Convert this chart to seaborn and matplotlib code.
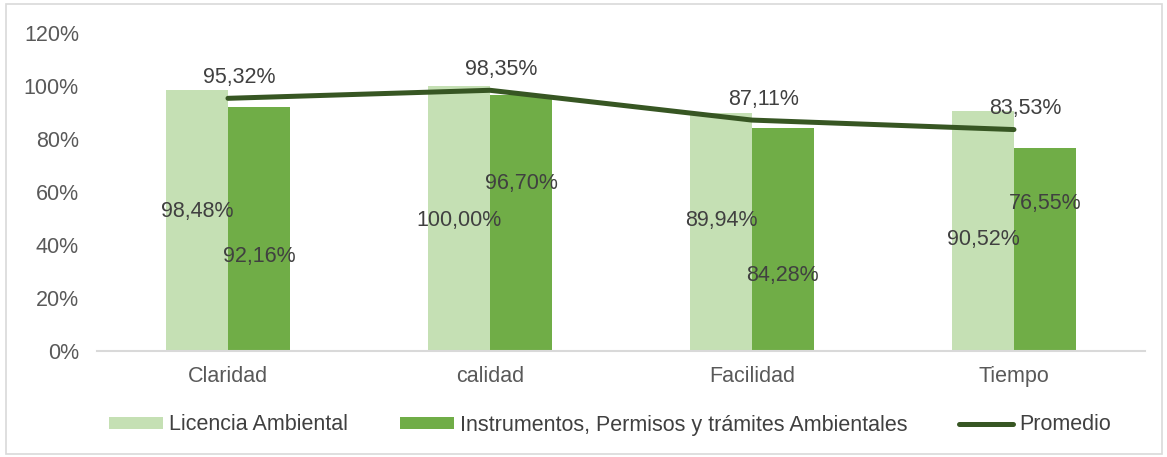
"""Evaluación de trámites ambientales: barras agrupadas con línea de promedio."""
import matplotlib.pyplot as plt
import pandas as pd
import seaborn as sns
from matplotlib.lines import Line2D
from matplotlib.patches import Patch, Rectangle
from matplotlib.ticker import FuncFormatter

categories = ["Claridad", "calidad", "Facilidad", "Tiempo"]
licencia = [98.48, 100.00, 89.94, 90.52]
instrumentos = [92.16, 96.70, 84.28, 76.55]
promedio = [95.32, 98.35, 87.11, 83.53]
series_names = ["Licencia Ambiental", "Instrumentos, Permisos y trámites Ambientales"]

# label heights as placed in the original (data units, %)
licencia_label_y = [52.8, 49.4, 49.4, 41.9]
instrumentos_label_y = [35.8, 63.0, 28.3, 55.5]

LIGHT = "#C5E0B4"
DARK = "#70AD47"
LINE = "#375623"
TEXT = "#404040"
TICK = "#595959"
FS = 15.5


def pct(v):
    return f"{v:.2f}%".replace(".", ",")


df = pd.DataFrame({
    "categoria": categories * 2,
    "valor": licencia + instrumentos,
    "serie": [series_names[0]] * 4 + [series_names[1]] * 4,
})

sns.set_theme(style="white")
plt.rcParams["font.family"] = ["Liberation Sans", "DejaVu Sans"]

fig = plt.figure(figsize=(11.67, 4.57), dpi=100)
ax = fig.add_axes([0.0831, 0.232, 0.898, 0.696])

sns.barplot(
    data=df, x="categoria", y="valor", hue="serie", order=categories,
    hue_order=series_names, palette=[LIGHT, DARK], width=0.473,
    saturation=1, linewidth=0, ax=ax, legend=False,
)
sns.lineplot(x=categories, y=promedio, sort=False, color=LINE, linewidth=3.6,
             ax=ax, solid_capstyle="round", legend=False)

# data labels
for cont, ys in zip(ax.containers, [licencia_label_y, instrumentos_label_y]):
    for bar, y in zip(cont, ys):
        ax.text(bar.get_x() + bar.get_width() / 2, y, pct(bar.get_height()),
                ha="center", va="center", fontsize=FS, color=TEXT)
for i, v in enumerate(promedio):
    ax.annotate(pct(v), (i, v), xytext=(8, 15), textcoords="offset points",
                ha="center", va="center", fontsize=FS, color=TEXT)

ax.set_ylim(0, 120)
ax.set_yticks(range(0, 121, 20))
ax.yaxis.set_major_formatter(FuncFormatter(lambda v, _: f"{v:.0f}%"))
ax.set_xlim(-0.5, 3.5)
ax.set_xlabel("")
ax.set_ylabel("")
ax.tick_params(axis="both", length=0, labelsize=FS, labelcolor=TICK)
ax.tick_params(axis="y", pad=13)
ax.tick_params(axis="x", pad=11)
for side in ["top", "right", "left"]:
    ax.spines[side].set_visible(False)
ax.spines["bottom"].set_color("#D9D9D9")
ax.spines["bottom"].set_linewidth(1.5)
ax.grid(False)

handles = [
    Patch(facecolor=LIGHT, edgecolor="none"),
    Patch(facecolor=DARK, edgecolor="none"),
    Line2D([], [], color=LINE, linewidth=3.6, solid_capstyle="round"),
]
labels = series_names + ["Promedio"]
fig.legend(handles, labels, loc="center", bbox_to_anchor=(610 / 1167, 1 - 425 / 457),
           ncol=3, frameon=False, fontsize=FS, labelcolor=TEXT,
           handlelength=2.5, handleheight=0.45, handletextpad=0.28,
           columnspacing=2.4)

fig.patches.append(Rectangle((0.005, 0.006), 0.991, 0.985, transform=fig.transFigure,
                             fill=False, edgecolor="#D9D9D9", linewidth=1.2))

fig.savefig("out.png", dpi=100)
plt.close(fig)
